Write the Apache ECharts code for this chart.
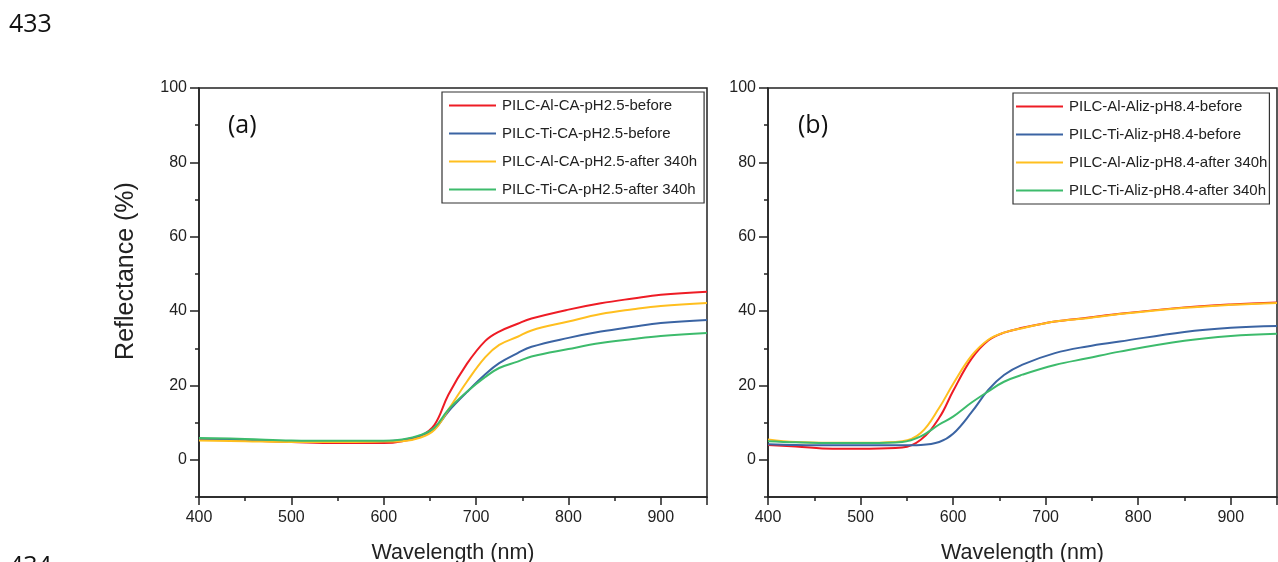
<!DOCTYPE html>
<html>
<head>
<meta charset="utf-8">
<script src="https://cdn.jsdelivr.net/npm/echarts@6/dist/echarts.min.js"></script>
<style>
html,body{margin:0;padding:0;background:#fff;}
#c{width:1278px;height:562px;}
</style>
</head>
<body>
<div id="c"></div>
<script>
// ---- Data (a) ----
const wlA = [400, 450, 500, 550, 600, 620, 640, 655, 670, 690, 710, 725, 745, 760, 800, 835, 870, 900, 950];
const alCaBefore = [5.5, 5.2, 4.8, 4.5, 4.5, 5.0, 6.4, 9.4, 17.5, 25.8, 32.0, 34.5, 36.6, 38.0, 40.4, 42.1, 43.4, 44.4, 45.2];
const tiCaBefore = [5.5, 5.3, 5.0, 5.0, 5.0, 5.3, 6.5, 8.3, 13.0, 18.2, 23.0, 26.0, 28.7, 30.4, 32.8, 34.5, 35.8, 36.8, 37.6];
const alCaAfter  = [5.2, 5.0, 4.8, 4.8, 4.9, 5.0, 6.0, 8.1, 13.5, 21.0, 27.6, 30.9, 33.1, 34.8, 37.2, 39.2, 40.5, 41.4, 42.2];
const tiCaAfter  = [5.9, 5.6, 5.2, 5.1, 5.1, 5.5, 6.7, 8.7, 13.5, 18.3, 22.3, 24.7, 26.4, 27.8, 29.8, 31.4, 32.5, 33.3, 34.1];
const namesA = ['PILC-Al-CA-pH2.5-before', 'PILC-Ti-CA-pH2.5-before', 'PILC-Al-CA-pH2.5-after 340h', 'PILC-Ti-CA-pH2.5-after 340h'];

// ---- Data (b) ----
const wlB = [400, 430, 470, 510, 545, 565, 585, 600, 620, 638, 655, 675, 710, 745, 780, 850, 900, 950];
const alAlizBefore = [4.0, 3.6, 3.0, 3.0, 3.3, 5.4, 11.3, 18.5, 27.2, 32.1, 34.2, 35.5, 37.2, 38.2, 39.3, 41.0, 41.8, 42.3];
const tiAlizBefore = [4.2, 4.0, 3.9, 3.9, 3.9, 4.0, 4.8, 7.0, 12.8, 18.8, 22.8, 25.6, 28.7, 30.5, 31.8, 34.4, 35.5, 36.0];
const alAlizAfter  = [5.5, 4.8, 4.6, 4.6, 5.0, 7.2, 14.0, 20.4, 28.0, 32.3, 34.2, 35.4, 37.2, 38.1, 39.2, 40.9, 41.7, 42.2];
const tiAlizAfter  = [5.0, 4.7, 4.5, 4.5, 4.8, 6.3, 9.5, 11.6, 15.4, 18.4, 21.0, 22.9, 25.5, 27.3, 29.1, 32.0, 33.3, 33.9];
const namesB = ['PILC-Al-Aliz-pH8.4-before', 'PILC-Ti-Aliz-pH8.4-before', 'PILC-Al-Aliz-pH8.4-after 340h', 'PILC-Ti-Aliz-pH8.4-after 340h'];

const majorY = [0, 20, 40, 60, 80, 100];
const colors = ['#ee1c25', '#3b64a3', '#ffbf1f', '#3dbb6c'];

const pairs = (xs, ys) => xs.map((x, i) => [x, ys[i]]);
const AX = '#222';
const FONT = 'Liberation Sans, Arial, sans-serif';

function xAxisFor(i) {
  return {
    type: 'value', gridIndex: i, min: 400, max: 950, interval: 100,
    axisLine: {onZero: false, lineStyle: {color: AX, width: 1.5}},
    axisTick: {length: 8, lineStyle: {color: AX, width: 1.5}},
    minorTick: {show: true, splitNumber: 2, length: 4, lineStyle: {color: AX, width: 1.5}},
    splitLine: {show: false}, minorSplitLine: {show: false},
    axisLabel: {margin: 13, fontSize: 16, color: AX, fontFamily: FONT,
      formatter: v => (v % 100 === 0 ? String(v) : '')},
    name: 'Wavelength (nm)', nameLocation: 'middle', nameGap: 45,
    nameTextStyle: {fontSize: 21.5, color: AX, fontFamily: FONT}
  };
}
function yAxesFor(i) {
  return [{
    type: 'value', gridIndex: i, min: -10, max: 100, interval: 10, position: 'left',
    axisLine: {show: true, onZero: false, lineStyle: {color: AX, width: 1.5}},
    axisTick: {length: 4, lineStyle: {color: AX, width: 1.5}},
    splitLine: {show: false},
    axisLabel: {margin: 12, fontSize: 16, color: AX, fontFamily: FONT,
      formatter: v => (v % 20 === 0 ? String(v) : '')}
  }, {
    type: 'value', gridIndex: i, min: -10, max: 100, position: 'left', offset: 0,
    axisLine: {show: false, onZero: false},
    axisTick: {show: true, customValues: majorY, length: 9, lineStyle: {color: AX, width: 1.5}},
    axisLabel: {show: false},
    splitLine: {show: false}
  }];
}

function makeSeries(names, xs, ys, gi) {
  return names.map((n, k) => ({
    name: n, type: 'line', xAxisIndex: gi, yAxisIndex: gi * 2,
    data: pairs(xs, ys[k]), smooth: 0.4, symbol: 'none',
    lineStyle: {width: 2, color: colors[k]}, itemStyle: {color: colors[k]}
  }));
}

const legendBase = {
  orient: 'vertical', icon: 'rect', itemWidth: 47, itemHeight: 2, itemGap: 13,
  borderColor: '#333', borderWidth: 1.2,
  textStyle: {fontSize: 15, lineHeight: 14, color: AX, fontFamily: FONT, padding: [0, 0, 0, 1]}
};

const gridBase = {height: 409, show: true, borderColor: AX, borderWidth: 1.5,
  containLabel: false, outerBoundsMode: 'none'};

const chart = echarts.init(document.getElementById('c'));
chart.setOption({
  animation: false,
  backgroundColor: '#fff',
  grid: [
    Object.assign({}, gridBase, {left: 199, top: 88, width: 508}),
    Object.assign({}, gridBase, {left: 768, top: 88, width: 509})
  ],
  xAxis: [xAxisFor(0), xAxisFor(1)],
  yAxis: [...yAxesFor(0), ...yAxesFor(1)],
  legend: [
    Object.assign({}, legendBase, {data: namesA, left: 442, top: 92, padding: [6, 7, 6, 7]}),
    Object.assign({}, legendBase, {data: namesB, left: 1013, top: 93, padding: [6, 2, 6, 3]})
  ],
  graphic: [
    {type: 'text', left: 9, top: 12, style: {text: '433', fontSize: 25, fill: '#111', fontFamily: 'Open Sans, sans-serif'}},
    {type: 'text', left: 9, top: 554, style: {text: '434', fontSize: 25, fill: '#111', fontFamily: 'Open Sans, sans-serif'}},
    {type: 'text', left: 228, top: 113, style: {text: '(a)', fontSize: 25, fill: '#111', fontFamily: 'Open Sans, sans-serif'}},
    {type: 'text', left: 798, top: 113, style: {text: '(b)', fontSize: 25, fill: '#111', fontFamily: 'Open Sans, sans-serif'}},
    {type: 'text', x: 126, y: 271, rotation: Math.PI / 2,
      style: {text: 'Reflectance (%)', fontSize: 25, fill: AX, fontFamily: FONT, align: 'center', verticalAlign: 'middle'}}
  ],
  series: [
    ...makeSeries(namesA, wlA, [alCaBefore, tiCaBefore, alCaAfter, tiCaAfter], 0),
    ...makeSeries(namesB, wlB, [alAlizBefore, tiAlizBefore, alAlizAfter, tiAlizAfter], 1)
  ]
});
</script>
</body>
</html>
